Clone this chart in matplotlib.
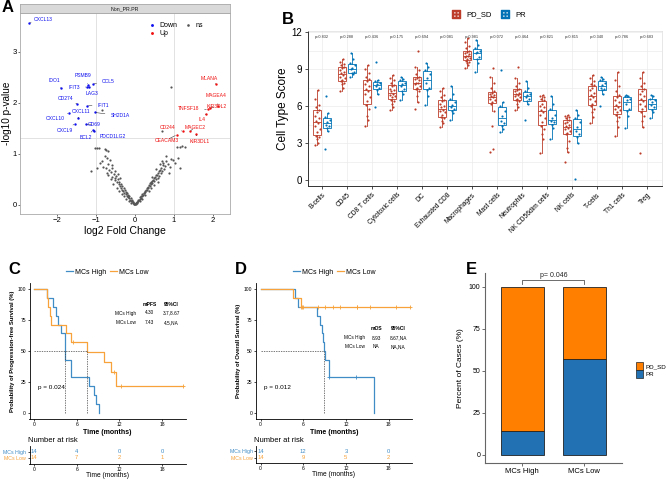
import numpy as np
import matplotlib.pyplot as plt
from matplotlib.lines import Line2D
from matplotlib.patches import Patch

plt.rcParams['font.family'] = ['Liberation Sans', 'DejaVu Sans']

# ---------------- data ----------------
# A: volcano
down_genes = ['CXCL13', 'IDO1', 'PSMB9', 'IFIT3', 'LAG3', 'CCL5', 'CD274', 'IFIT1',
              'CXCL10', 'CXCL11', 'SH2D1A', 'CXCL9', 'CD69', 'BCL2', 'PDCD1LG2']
down_fc = [-2.72, -1.90, -1.20, -1.22, -1.18, -1.08, -1.49, -1.23, -1.69, -1.46, -1.03, -1.54, -1.26, -1.08, -1.05]
down_p = [3.57, 2.29, 2.35, 2.31, 2.30, 2.37, 1.98, 1.94, 1.80, 1.70, 1.81, 1.59, 1.58, 1.46, 1.45]
up_genes = ['MLANA', 'MAGEA4', 'KIR3DL2', 'TNFSF18', 'IL4', 'MAGEC2', 'CD244', 'CEACAM3', 'KIR3DL1']
up_fc = [2.07, 2.14, 1.92, 1.87, 1.82, 1.41, 1.24, 1.07, 1.56]
up_p = [2.37, 1.93, 1.89, 1.87, 1.78, 1.44, 1.44, 1.37, 1.39]
ns_fc = [-1.13, -0.98, -0.90, -0.85, -0.81, -1.03, -0.97, -0.91, -0.77, -0.73, -0.68, -0.85,
         -0.75, -0.70, -0.66, -0.62, -0.60, -0.58, -0.55, -0.52, -0.50, -0.48, -0.46, -0.44,
         -0.42, -0.40, -0.38, -0.36, -0.35, -0.33, -0.32, -0.30, -0.29, -0.27, -0.26, -0.24,
         -0.23, -0.21, -0.20, -0.18, -0.17, -0.15, -0.14, -0.12, -0.11, -0.10, -0.08, -0.07,
         -0.06, -0.05, -0.04, -0.03, -0.02, -0.01, -0.56, -0.47, -0.40, -0.34, -0.28, -0.22,
         -0.16, -0.10, -0.62, -0.68, -0.72, -0.64, -0.58, -0.50, -0.44, -0.38, -0.78, -0.72,
         0.01, 0.02, 0.03, 0.04, 0.05, 0.06, 0.08, 0.09, 0.10, 0.12, 0.13, 0.15, 0.16, 0.18,
         0.19, 0.21, 0.22, 0.24, 0.25, 0.27, 0.28, 0.30, 0.31, 0.33, 0.34, 0.36, 0.38, 0.39,
         0.41, 0.42, 0.44, 0.45, 0.47, 0.48, 0.50, 0.52, 0.53, 0.55, 0.56, 0.58, 0.60, 0.62,
         0.63, 0.64, 0.66, 0.68, 0.70, 0.72, 0.73, 0.75, 0.78, 0.81, 0.85, 0.90, 0.93, 0.98,
         1.02, 1.11, 1.15, 1.07, 1.15, 1.20, 0.70, 0.92, 1.28, 0.60, 0.50, 0.42, 0.35, 0.26,
         0.18, 0.12, 0.06, 0.55, 0.65, 0.70, 0.45, 0.80, 0.88]
ns_p = [0.67, 0.72, 0.82, 0.86, 0.75, 1.12, 1.12, 1.12, 1.10, 1.08, 1.05, 1.86,
        0.72, 0.80, 0.68, 0.64, 0.72, 0.55, 0.60, 0.52, 0.48, 0.57, 0.44, 0.50,
        0.40, 0.45, 0.36, 0.41, 0.33, 0.30, 0.37, 0.27, 0.33, 0.24, 0.29, 0.21,
        0.26, 0.18, 0.23, 0.16, 0.20, 0.13, 0.17, 0.10, 0.14, 0.08, 0.07, 0.10,
        0.05, 0.03, 0.06, 0.02, 0.01, 0.02, 0.40, 0.32, 0.28, 0.22, 0.17, 0.12,
        0.08, 0.04, 0.50, 0.58, 0.62, 0.88, 0.78, 0.66, 0.60, 0.52, 0.95, 0.92,
        0.01, 0.02, 0.03, 0.04, 0.06, 0.05, 0.08, 0.10, 0.09, 0.12, 0.15, 0.14, 0.18, 0.17,
        0.21, 0.20, 0.24, 0.23, 0.27, 0.26, 0.30, 0.33, 0.29, 0.35, 0.32, 0.38, 0.42, 0.36,
        0.44, 0.40, 0.47, 0.43, 0.49, 0.52, 0.46, 0.55, 0.50, 0.58, 0.59, 0.53, 0.62, 0.66,
        0.57, 0.69, 0.63, 0.72, 0.66, 0.78, 0.82, 0.70, 0.76, 0.85, 0.80, 0.75, 0.90, 0.88,
        0.82, 0.92, 0.72, 1.14, 1.14, 1.16, 1.44, 2.31, 1.13, 0.44, 0.38, 0.33, 0.27, 0.19,
        0.12, 0.07, 0.03, 0.70, 0.80, 0.85, 0.55, 0.95, 0.62]
# label placement for the named genes (data coords)
down_lab_x = [-2.35, -2.08, -1.34, -1.56, -1.10, -0.68, -1.79, -0.81, -2.05, -1.38, -0.38, -1.79, -1.04, -1.26, -0.56]
down_lab_y = [3.64, 2.44, 2.53, 2.30, 2.19, 2.42, 2.08, 1.95, 1.70, 1.82, 1.75, 1.46, 1.58, 1.32, 1.34]
up_lab_x = [1.92, 2.09, 2.09, 1.37, 1.71, 1.54, 0.85, 0.81, 1.67]
up_lab_y = [2.48, 2.14, 1.93, 1.88, 1.67, 1.52, 1.52, 1.27, 1.25]

# B: cell type scores
cells = ['B-cells', 'CD45', 'CD8 T cells', 'Cytotoxic cells', 'DC', 'Exhausted CD8',
         'Macrophages', 'Mast cells', 'Neutrophils', 'NK CD56dim cells', 'NK cells',
         'T-cells', 'Th1 cells', 'Treg']
pvals_b = ['p=0.832', 'p=0.288', 'p=0.436', 'p=0.175', 'p=0.694', 'p=0.081', 'p=0.981',
           'p=0.072', 'p=0.464', 'p=0.821', 'p=0.815', 'p=0.340', 'p=0.786', 'p=0.683']
pdsd_scores = [
    [2.8, 3.0, 3.3, 3.5, 3.6, 3.9, 4.1, 4.4, 4.6, 4.8, 5.0, 5.2, 5.5, 5.7, 5.9, 6.1, 6.6, 7.3],
    [7.2, 7.5, 7.8, 7.9, 8.0, 8.1, 8.3, 8.4, 8.5, 8.7, 8.8, 8.9, 9.1, 9.2, 9.3, 9.4, 9.6, 9.8],
    [4.4, 4.9, 5.2, 5.8, 6.1, 6.4, 6.7, 7.0, 7.2, 7.4, 7.6, 7.8, 8.0, 8.2, 8.4, 8.7, 9.0, 9.3],
    [5.7, 5.9, 6.2, 6.4, 6.5, 6.7, 6.8, 6.9, 7.0, 7.2, 7.3, 7.4, 7.6, 7.7, 7.9, 8.1, 8.3, 8.5],
    [5.8, 6.3, 6.8, 7.2, 7.4, 7.5, 7.6, 7.8, 7.9, 7.9, 8.1, 8.2, 8.3, 8.4, 8.6, 8.9, 9.2, 10.5],
    [4.3, 4.6, 4.8, 5.0, 5.1, 5.3, 5.5, 5.6, 5.7, 5.9, 6.0, 6.2, 6.4, 6.5, 6.7, 6.9, 7.2, 7.5],
    [9.1, 9.3, 9.5, 9.6, 9.7, 9.8, 9.9, 10.0, 10.1, 10.1, 10.2, 10.3, 10.4, 10.5, 10.7, 10.9, 11.2, 11.5],
    [2.3, 2.5, 4.4, 5.6, 6.2, 6.3, 6.5, 6.6, 6.7, 6.8, 6.9, 7.0, 7.1, 7.2, 7.5, 7.9, 8.4, 9.1],
    [5.7, 5.9, 6.2, 6.4, 6.5, 6.6, 6.7, 6.8, 6.9, 7.0, 7.1, 7.2, 7.3, 7.4, 7.6, 7.9, 8.3, 9.2],
    [2.2, 3.3, 3.7, 4.1, 4.4, 4.7, 5.0, 5.3, 5.5, 5.7, 5.9, 6.0, 6.2, 6.5, 6.6, 6.7, 6.8, 6.9],
    [1.5, 2.3, 2.6, 3.2, 3.7, 3.8, 4.0, 4.1, 4.2, 4.4, 4.5, 4.6, 4.7, 4.9, 5.0, 5.1, 5.2, 5.3],
    [4.6, 5.1, 5.5, 5.8, 6.0, 6.2, 6.4, 6.6, 6.7, 6.9, 7.1, 7.3, 7.5, 7.7, 7.8, 8.0, 8.3, 8.5],
    [3.6, 4.3, 4.8, 5.1, 5.3, 5.5, 5.7, 5.8, 5.9, 6.1, 6.3, 6.5, 6.7, 6.9, 7.2, 7.6, 8.1, 8.8],
    [2.2, 4.3, 4.8, 5.2, 5.5, 5.8, 6.0, 6.2, 6.4, 6.6, 6.8, 7.0, 7.2, 7.4, 7.6, 7.9, 8.3, 8.8],
]
pr_scores = [
    [2.5, 4.0, 4.2, 4.4, 4.5, 4.7, 4.9, 5.1, 5.4, 6.8],
    [8.4, 8.6, 8.7, 8.8, 9.0, 9.1, 9.3, 9.5, 9.8, 10.3],
    [5.9, 7.0, 7.3, 7.5, 7.6, 7.8, 7.9, 8.0, 8.1, 9.6],
    [6.5, 7.0, 7.2, 7.4, 7.6, 7.8, 7.9, 8.1, 8.2, 8.4],
    [6.1, 6.8, 7.3, 7.5, 7.9, 8.3, 8.6, 8.9, 9.2, 9.5],
    [4.9, 5.4, 5.6, 5.8, 5.9, 6.1, 6.3, 6.6, 7.0, 7.6],
    [8.8, 9.5, 9.8, 10.0, 10.3, 10.4, 10.5, 10.7, 11.0, 11.4],
    [3.9, 4.1, 4.4, 4.6, 4.8, 5.2, 5.6, 6.0, 6.3, 8.9],
    [4.9, 6.2, 6.4, 6.6, 6.7, 6.9, 7.0, 7.2, 7.5, 8.0],
    [3.3, 4.2, 4.5, 4.7, 4.8, 5.0, 5.3, 5.8, 6.2, 6.8],
    [0.05, 3.0, 3.5, 3.7, 4.0, 4.3, 4.7, 5.0, 5.3, 5.7],
    [6.0, 7.0, 7.3, 7.4, 7.5, 7.7, 7.9, 8.1, 8.2, 8.4],
    [4.2, 5.2, 5.6, 5.8, 6.2, 6.5, 6.6, 6.8, 6.8, 6.9],
    [5.0, 5.5, 5.7, 5.9, 6.1, 6.3, 6.5, 6.6, 6.8, 6.9],
]

# C: progression-free survival (months, 1 = event, 0 = censored)
pfs_high_t = [1.76, 2.68, 3.06, 3.38, 3.75, 4.30, 4.30, 4.30, 5.23, 5.23, 7.69, 8.38, 8.70, 9.07]
pfs_high_e = [1] * 14
pfs_low_t = [1.76, 2.0, 2.2, 2.4, 4.54, 5.23, 5.5, 7.43, 9.86, 10.8, 11.3, 11.56, 12.2, 21.0]
pfs_low_e = [1, 1, 1, 1, 1, 1, 0, 1, 1, 1, 0, 1, 0, 0]
pfs_table = [['mPFS', '95%CI'], ['4.30', '3.7,8.67'], ['7.43', '4.5,NA']]

# D: overall survival
os_high_t = [4.8, 5.3, 7.9, 8.4, 8.6, 8.75, 8.93, 9.0, 9.6, 9.6, 9.6, 13.4, 16.0, 16.0]
os_high_e = [1, 1, 1, 1, 1, 1, 1, 1, 1, 1, 0, 0, 1, 1]
os_low_t = [4.6, 5.65, 5.7, 5.8, 5.9, 8.05, 9.1, 10.2, 11.1, 13.5, 13.6, 15.4, 19.1, 21.0]
os_low_e = [1, 1, 0, 0, 0, 0, 0, 0, 0, 0, 0, 0, 0, 0]
os_table = [['mOS', '95%CI'], ['8.93', '8.67,NA'], ['NA', 'NA,NA']]

risk_times = [0, 6, 12, 18]
groups = ['MCs High', 'MCs Low']

# E: response by MCs group
n_pr = [2, 8]
n_total = [14, 14]

# ---------------- layout helpers ----------------
W, H = 667, 479
fig = plt.figure(figsize=(W / 100, H / 100), dpi=100)


def px_axes(x0, y0, x1, y1):
    return fig.add_axes([x0 / W, 1 - y1 / H, (x1 - x0) / W, (y1 - y0) / H])


def ptext(x, y, s, **kw):
    fig.text(x / W, 1 - y / H, s, **kw)


RED_B, BLUE_B = '#BC3C29', '#0072B5'
BLUE_K, ORANGE_K = '#3F8CC6', '#F7A23B'
ORANGE_E, BLUE_E = '#FF8000', '#2271B2'

# ---------------- A ----------------
ax = px_axes(20, 13, 230, 214)
ax.axvline(-1, color='#DDDDDD', lw=0.6, zorder=0)
ax.axvline(1, color='#DDDDDD', lw=0.6, zorder=0)
ax.axhline(-np.log10(0.05), color='#DDDDDD', lw=0.6, zorder=0)
ax.scatter(ns_fc, ns_p, s=2.5, color='#555555', lw=0, label='ns', zorder=2)
ax.scatter(down_fc, down_p, s=3, color='#1010F0', lw=0, label='Down', zorder=3)
ax.scatter(up_fc, up_p, s=3, color='#F01010', lw=0, label='Up', zorder=3)
for g, x, y, lx, ly in zip(down_genes, down_fc, down_p, down_lab_x, down_lab_y):
    ax.annotate(g, xy=(x, y), xytext=(lx, ly), color='#1010F0', fontsize=3.6, ha='center', va='center',
                arrowprops=dict(arrowstyle='-', color='#222222', lw=0.35, shrinkA=2, shrinkB=1))
for g, x, y, lx, ly in zip(up_genes, up_fc, up_p, up_lab_x, up_lab_y):
    ax.annotate(g, xy=(x, y), xytext=(lx, ly), color='#F01010', fontsize=3.6, ha='center', va='center',
                arrowprops=dict(arrowstyle='-', color='#222222', lw=0.35, shrinkA=2, shrinkB=1))
ax.set_xlim(-2.95, 2.44)
ax.set_ylim(-0.18, 3.76)
ax.set_xticks([-2, -1, 0, 1, 2])
ax.set_yticks([0, 1, 2, 3])
ax.tick_params(labelsize=5.5, length=1.5, width=0.5, color='#333333', pad=1)
ax.set_xlabel('log2 Fold Change', fontsize=7.5, labelpad=1)
ax.set_ylabel('-log10 p-value', fontsize=7.2, labelpad=0.5)
for s in ax.spines.values():
    s.set_color('#AAAAAA')
    s.set_linewidth(0.6)
h, l = ax.get_legend_handles_labels()
order = [1, 2, 0]
ax.legend([h[i] for i in order], [l[i] for i in order], ncol=2, loc='upper left',
          bbox_to_anchor=(0.57, 0.98), frameon=False, fontsize=5, handletextpad=0.1,
          columnspacing=0.6, labelspacing=0.2, markerscale=1.2, borderpad=0.2)
strip = px_axes(20, 4, 230, 13)
strip.set_facecolor('#D9D9D9')
strip.set_xticks([])
strip.set_yticks([])
for s in strip.spines.values():
    s.set_color('#AAAAAA')
    s.set_linewidth(0.6)
strip.text(0.5, 0.5, 'Non_PR.PR', fontsize=3.8, ha='center', va='center', color='#1A1A1A',
           transform=strip.transAxes)
ptext(2, 8, 'A', fontsize=12, fontweight='bold', va='center')

# ---------------- B ----------------
ax = px_axes(308, 31, 662, 186)
jit = np.array([-0.09, 0.05, -0.02, 0.08, -0.06, 0.01, 0.10, -0.10, 0.03, -0.04, 0.07, -0.08, 0.00, 0.06, -0.03, 0.09, -0.07, 0.04])
for i in range(len(cells)):
    for vals, off, col in ((pdsd_scores[i], -0.2, RED_B), (pr_scores[i], 0.2, BLUE_B)):
        ax.boxplot(vals, positions=[i + off], widths=0.3, showfliers=False, showcaps=False,
                   patch_artist=True, manage_ticks=False,
                   boxprops=dict(facecolor='white', edgecolor=col, lw=0.6),
                   medianprops=dict(color=col, lw=0.6), whiskerprops=dict(color=col, lw=0.6))
        ax.scatter(i + off + jit[:len(vals)], vals, s=2.4, color=col, lw=0, zorder=3)
    ax.text(i, 11.6, pvals_b[i], fontsize=2.8, ha='center', va='center', color='#333333')
ax.set_xlim(-0.56, 13.6)
ax.set_ylim(-0.49, 12.1)
ax.set_yticks([0, 3, 6, 9, 12])
ax.set_yticks([1.5, 4.5, 7.5, 10.5], minor=True)
ax.set_xticks(range(len(cells)))
ax.set_xticklabels(cells, rotation=45, ha='right', rotation_mode='anchor', fontsize=4.8)
ax.grid(True, which='both', color='#EBEBEB', lw=0.5)
ax.set_axisbelow(True)
ax.tick_params(axis='y', labelsize=7, length=2.5, width=0.6, color='#333333', pad=1.5)
ax.tick_params(axis='y', which='minor', length=0)
ax.tick_params(axis='x', length=2.5, width=0.6, color='#333333', pad=1.5)
ax.set_ylabel('Cell Type Score', fontsize=8.5, labelpad=2)
for side in ('top', 'right'):
    ax.spines[side].set_color('#DDDDDD')
    ax.spines[side].set_linewidth(0.5)
for side in ('left', 'bottom'):
    ax.spines[side].set_color('#333333')
    ax.spines[side].set_linewidth(0.7)
fig.legend(handles=[Line2D([], [], marker=r'$\boxplus$', color=RED_B, ls='none', markersize=5.5, label='PD_SD'),
                    Line2D([], [], marker=r'$\boxplus$', color=BLUE_B, ls='none', markersize=5.5, label='PR')],
           loc='center', bbox_to_anchor=(487 / W, 1 - 15 / H), ncol=2, frameon=False, fontsize=5.5,
           handletextpad=0.3, columnspacing=0.8)
ptext(282, 20, 'B', fontsize=12, fontweight='bold', va='center')


# ---------------- C / D ----------------
def km_steps(times, events):
    t = np.asarray(times, float)
    e = np.asarray(events)
    at_risk = len(t)
    s = 1.0
    xs, ys, cx, cy = [0.0], [1.0], [], []
    for ut in np.unique(t):
        d = int(np.sum((t == ut) & (e == 1)))
        c = int(np.sum((t == ut) & (e == 0)))
        if d:
            s *= (at_risk - d) / at_risk
            xs.append(ut)
            ys.append(s)
        if c:
            cx.append(ut)
            cy.append(s)
        at_risk -= d + c
    xs.append(t.max())
    ys.append(s)
    return np.array(xs), np.array(ys) * 100, cx, np.array(cy) * 100


def km_median(times, events):
    xs, ys, _, _ = km_steps(times, events)
    hit = np.where(ys <= 50 + 1e-9)[0]
    return xs[hit[0]] if len(hit) else None


def km_panel(x0, x1, letter, data, ylabel, table, ptxt, risk_bottom):
    ax = px_axes(x0, 283, x1, 419)
    meds = []
    for (t, e), col in zip(data, (BLUE_K, ORANGE_K)):
        xs, ys, cx, cy = km_steps(t, e)
        ax.step(xs, ys, where='post', color=col, lw=0.9)
        ax.plot(cx, cy, ls='none', marker='+', color=col, ms=3, mew=0.6)
        m = km_median(t, e)
        if m is not None:
            meds.append(m)
    for m in meds:
        ax.plot([m, m], [0, 50], ls=(0, (2, 1.5)), color='#444444', lw=0.5)
    ax.plot([0, max(meds)], [50, 50], ls=(0, (2, 1.5)), color='#444444', lw=0.5)
    ax.set_xlim(-0.65, 21.3)
    ax.set_ylim(-5, 105)
    ax.set_xticks(risk_times)
    ax.set_yticks([0, 25, 50, 75, 100])
    ax.tick_params(labelsize=3.6, length=1.5, width=0.5, pad=1)
    ax.set_xlabel('Time (months)', fontsize=5, fontweight='bold', labelpad=1)
    ax.set_ylabel(ylabel, fontsize=4.2, fontweight='bold', labelpad=2)
    for side in ('top', 'right'):
        ax.spines[side].set_visible(False)
    for side in ('left', 'bottom'):
        ax.spines[side].set_linewidth(0.6)
    # table of medians
    off = x0 - 29.5
    hx = [off + 149.5, off + 171.5]
    for j, hdr in enumerate(table[0]):
        ptext(hx[j], 305 if letter == 'C' else 329, hdr, fontsize=3.6, fontweight='bold', ha='center', va='center')
    for r, g in enumerate(groups):
        yy = (313 + 9.5 * r) if letter == 'C' else (338 + 9 * r)
        ptext(off + 136 if letter == 'C' else off + 138, yy, g, fontsize=3.4, ha='right', va='center')
        for j in range(2):
            ptext(hx[j], yy, table[r + 1][j], fontsize=3.4, ha='center', va='center')
    ptext(x0 + 8.5, 387, ptxt, fontsize=4.6, va='center')
    fig.legend(handles=[Line2D([], [], color=BLUE_K, lw=0.9, label=groups[0]),
                        Line2D([], [], color=ORANGE_K, lw=0.9, label=groups[1])],
               loc='center', bbox_to_anchor=((x0 + 78) / W, 1 - 272 / H), ncol=2, frameon=False,
               fontsize=5, handlelength=1.0, handletextpad=0.3, columnspacing=0.5)
    ptext(x0 - 21, 270, letter, fontsize=12, fontweight='bold', va='center')
    # number at risk
    rt = px_axes(x0, 446, x1, risk_bottom)
    for r, ((t, e), col) in enumerate(zip(data, (BLUE_K, ORANGE_K))):
        for tt in risk_times:
            rt.text(tt, 2 - r, str(int(np.sum(np.asarray(t) >= tt))), color=col, fontsize=4.2,
                    ha='center', va='center')
    rt.set_xlim(-0.65, 21.3)
    rt.set_ylim(0.14, 2.86)
    rt.set_yticks([2, 1])
    rt.set_yticklabels(groups, fontsize=3.8)
    for lab, col in zip(rt.get_yticklabels(), (BLUE_K, ORANGE_K)):
        lab.set_color(col)
    rt.set_xticks(risk_times)
    rt.tick_params(axis='x', labelsize=3.6, length=1.5, width=0.5, pad=0.8)
    rt.tick_params(axis='y', length=1.5, width=0.5, pad=1)
    rt.set_xlabel('Time (months)', fontsize=4.8, labelpad=0)
    for side in ('top', 'right'):
        rt.spines[side].set_visible(False)
    for side in ('left', 'bottom'):
        rt.spines[side].set_linewidth(0.6)
    ptext(x0 - 1.5, 441, 'Number at risk', fontsize=5.5, va='center')


km_panel(29.5, 185.5, 'C', [(pfs_high_t, pfs_high_e), (pfs_low_t, pfs_low_e)],
         'Probability of Progression-free Survival (%)', pfs_table, 'p = 0.024', 463.5)
km_panel(256, 412, 'D', [(os_high_t, os_high_e), (os_low_t, os_low_e)],
         'Probability of Overall Survival (%)', os_table, 'p = 0.012', 463)

# ---------------- E ----------------
ax = px_axes(485, 272.7, 621.7, 463.3)
pr_pct = 100 * np.array(n_pr) / np.array(n_total)
pdsd_pct = 100 - pr_pct
xpos = np.arange(len(groups))
ax.bar(xpos, pr_pct, width=0.69, color=BLUE_E, edgecolor='#222222', lw=0.6)
ax.bar(xpos, pdsd_pct, bottom=pr_pct, width=0.69, color=ORANGE_E, edgecolor='#222222', lw=0.6)
ax.plot([0, 0, 1, 1], [101.8, 103.9, 103.9, 101.8], color='#555555', lw=0.6)
ax.text(0.5, 104.6, 'p= 0.046', fontsize=5, ha='center', va='bottom', color='#222222')
ax.set_xlim(-0.6, 1.6)
ax.set_ylim(-5, 108.5)
ax.set_xticks(xpos)
ax.set_xticklabels(groups, fontsize=5.5)
ax.set_yticks([0, 25, 50, 75, 100])
ax.tick_params(axis='y', labelsize=5, length=2, width=0.6, color='#555555', pad=1.5)
ax.tick_params(axis='x', length=2, width=0.6, color='#555555', pad=1.5)
ax.set_ylabel('Percent of Cases (%)', fontsize=6, labelpad=3)
for side in ('top', 'right'):
    ax.spines[side].set_visible(False)
for side in ('left', 'bottom'):
    ax.spines[side].set_color('#666666')
    ax.spines[side].set_linewidth(0.8)
fig.legend(handles=[Patch(facecolor=ORANGE_E, edgecolor='#222222', lw=0.5, label='PD_SD'),
                    Patch(facecolor=BLUE_E, edgecolor='#222222', lw=0.5, label='PR')],
           loc='center left', bbox_to_anchor=(630 / W, 1 - 370 / H), frameon=False, fontsize=4.5,
           handlelength=1.2, handleheight=1.6, labelspacing=0.05, handletextpad=0.4)
ptext(466, 270, 'E', fontsize=12, fontweight='bold', va='center')

fig.savefig('out.png', dpi=100)
